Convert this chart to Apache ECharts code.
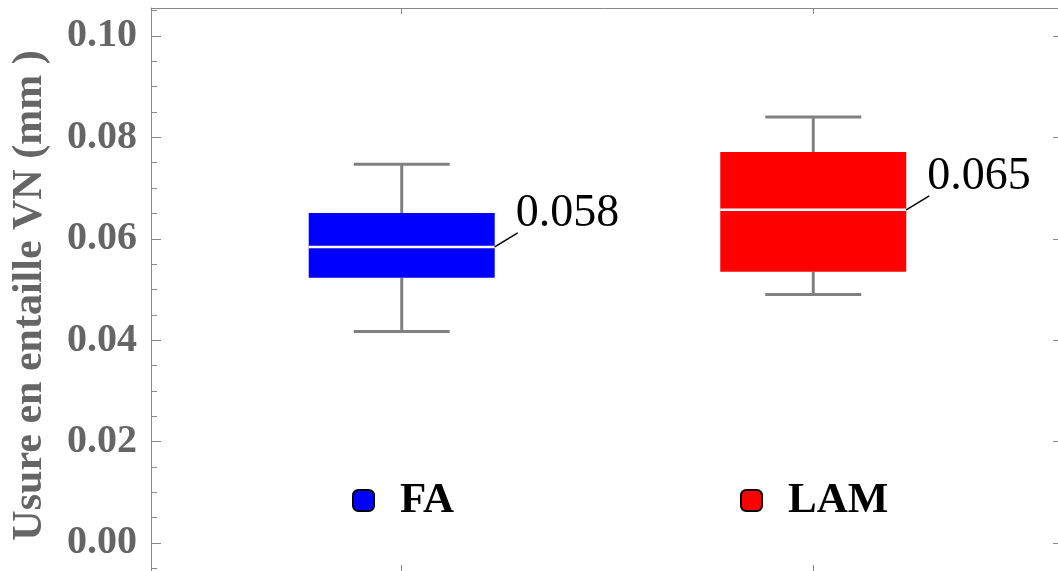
<!DOCTYPE html>
<html>
<head>
<meta charset="utf-8">
<script src="https://cdn.jsdelivr.net/npm/echarts@6/dist/echarts.min.js"></script>
<style>
  html, body { margin: 0; padding: 0; background: #fff; }
  #chart { width: 1058px; height: 571px; }
</style>
</head>
<body>
<div id="chart"></div>
<script>
// groups and their box statistics (min, Q1, median, Q3, max)
const categories = ['FA', 'LAM']
const colors = ['#0000ff', '#ff0000']
const mins = [0.0417, 0.0490]
const q1s = [0.0523, 0.0535]
const medians = [0.0584, 0.0657]
const q3s = [0.0651, 0.0771]
const maxs = [0.0747, 0.0840]
const medianLabels = ['0.058', '0.065']

const yMajorTicks = [0, 0.02, 0.04, 0.06, 0.08, 0.10]
const yMinorTicks = [-0.005, 0, 0.005, 0.01, 0.015, 0.02, 0.025, 0.03, 0.035, 0.04, 0.045,
  0.05, 0.055, 0.06, 0.065, 0.07, 0.075, 0.08, 0.085, 0.09, 0.095, 0.1, 0.105]
const xTicks = [1, 2]

const GRAY = '#888888'
const LABEL_GRAY = '#656565'
const SERIF = "'Liberation Serif', 'Times New Roman', Times, 'DejaVu Serif', serif"

const chart = echarts.init(document.getElementById('chart'))

function renderBox(params, api) {
  const x = api.value(0)
  const pMin = api.coord([x, api.value(1)])
  const pQ1 = api.coord([x, api.value(2)])
  const pMed = api.coord([x, api.value(3)])
  const pQ3 = api.coord([x, api.value(4)])
  const pMax = api.coord([x, api.value(5)])
  const cx = pMed[0]
  const halfBox = 93, halfCap = 48
  const whisker = { stroke: '#808080', lineWidth: 3 }
  const ex = cx + halfBox + 23, ey = pMed[1] - 14
  return {
    type: 'group',
    children: [
      { type: 'line', shape: { x1: cx, y1: pQ3[1], x2: cx, y2: pMax[1] }, style: whisker },
      { type: 'line', shape: { x1: cx - halfCap, y1: pMax[1], x2: cx + halfCap, y2: pMax[1] }, style: whisker },
      { type: 'line', shape: { x1: cx, y1: pQ1[1], x2: cx, y2: pMin[1] }, style: whisker },
      { type: 'line', shape: { x1: cx - halfCap, y1: pMin[1], x2: cx + halfCap, y2: pMin[1] }, style: whisker },
      { type: 'rect', shape: { x: cx - halfBox, y: pQ3[1], width: halfBox * 2, height: pQ1[1] - pQ3[1] }, style: { fill: api.visual('color') } },
      { type: 'line', shape: { x1: cx - halfBox, y1: pMed[1], x2: cx + halfBox, y2: pMed[1] }, style: { stroke: '#fff', lineWidth: 2.5 } },
      { type: 'line', shape: { x1: cx + halfBox, y1: pMed[1], x2: ex, y2: ey }, style: { stroke: '#000', lineWidth: 1.5 } },
      {
        type: 'text', x: ex - 2, y: ey - 19,
        style: {
          text: medianLabels[api.value(6)],
          fill: '#000', fontFamily: SERIF, fontSize: 46, align: 'left', verticalAlign: 'middle'
        }
      }
    ]
  }
}

const series = categories.map((name, i) => ({
  name: name,
  type: 'custom',
  renderItem: renderBox,
  itemStyle: { color: colors[i] },
  encode: { x: 0, y: [1, 2, 3, 4, 5] },
  data: [[i + 1, mins[i], q1s[i], medians[i], q3s[i], maxs[i], i]],
  animation: false,
  silent: true
}))

const xBase = {
  type: 'value', min: 0.3908, max: 2.5947,
  splitLine: { show: false },
  axisLabel: { show: false },
  axisLine: { show: true, onZero: false, lineStyle: { color: GRAY, width: 1 } },
  axisTick: { show: true, inside: true, length: 6, customValues: xTicks, lineStyle: { color: GRAY, width: 1 } }
}

const yBase = {
  type: 'value', min: -0.0055, max: 0.1055,
  splitLine: { show: false }
}

chart.setOption({
  backgroundColor: '#fff',
  animation: false,
  grid: { left: 151, top: 8, width: 908, height: 564 },
  legend: categories.map((name, i) => ({
    data: [name],
    left: [352, 740][i],
    top: 479,
    padding: 0,
    icon: 'roundRect',
    itemWidth: 21, itemHeight: 21,
    itemStyle: { borderColor: '#000', borderWidth: 2 },
    selectedMode: false,
    textStyle: { fontFamily: SERIF, fontWeight: 'bold', fontSize: 43, color: '#000', padding: [0, 0, 0, 21] }
  })),
  xAxis: [
    Object.assign({}, xBase, { position: 'bottom' }),
    Object.assign({}, xBase, { position: 'top' })
  ],
  yAxis: [
    Object.assign({}, yBase, {
      position: 'left',
      name: 'Usure en entaille VN (mm )',
      nameLocation: 'middle',
      nameRotate: 90,
      nameGap: 121,
      nameTextStyle: {
        fontFamily: SERIF, fontWeight: 'bold', fontSize: 42, color: LABEL_GRAY,
        verticalAlign: 'middle', align: 'center', padding: [0, 12, 0, 0]
      },
      axisLine: { show: true, onZero: false, lineStyle: { color: GRAY, width: 1 } },
      axisTick: { show: true, inside: true, length: 10, customValues: yMajorTicks, lineStyle: { color: GRAY } },
      axisLabel: {
        show: true, margin: 14, customValues: yMajorTicks,
        formatter: v => v.toFixed(2),
        fontFamily: SERIF, fontWeight: 'bold', fontSize: 40, color: LABEL_GRAY
      }
    }),
    Object.assign({}, yBase, {
      position: 'left',
      axisLine: { show: false },
      axisLabel: { show: false },
      axisTick: { show: true, inside: true, length: 6, customValues: yMinorTicks, lineStyle: { color: GRAY } }
    }),
    Object.assign({}, yBase, {
      position: 'right',
      axisLine: { show: true, onZero: false, lineStyle: { color: GRAY } },
      axisLabel: { show: false },
      axisTick: { show: true, inside: true, length: 5, customValues: yMajorTicks, lineStyle: { color: GRAY } }
    })
  ],
  series: series
})
</script>
</body>
</html>
